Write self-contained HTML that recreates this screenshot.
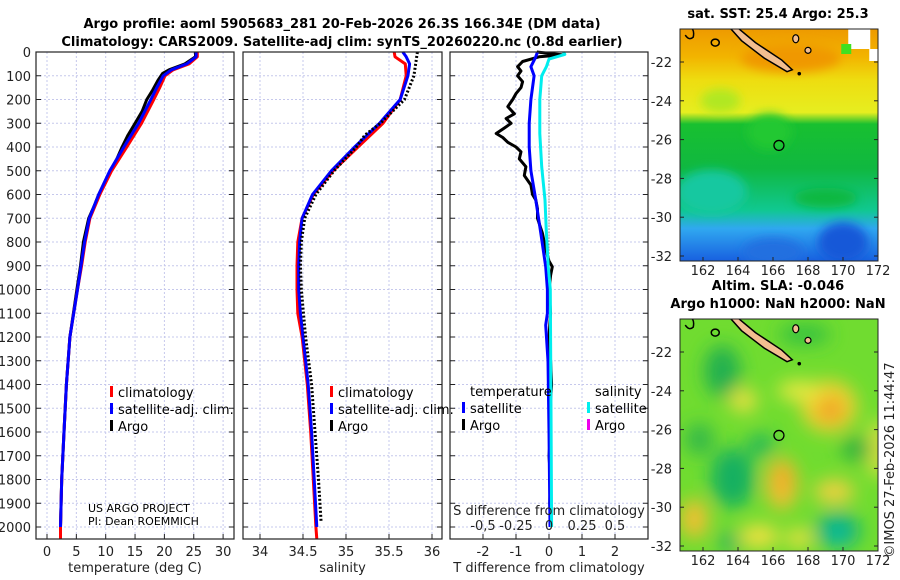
<!DOCTYPE html>
<html><head><meta charset="utf-8"><style>
html,body{margin:0;padding:0;background:#fff;}
svg{display:block;font-family:"DejaVu Sans","Liberation Sans",sans-serif;}
.tk{font-size:13px;fill:#222;}
.ttl{font-size:13px;font-weight:bold;fill:#000;}
.lg{font-size:13px;fill:#000;}
</style></head><body>
<svg id="fig" width="900" height="580" viewBox="0 0 900 580" xmlns="http://www.w3.org/2000/svg">
<defs>
<filter id="blur8" x="-50%" y="-50%" width="200%" height="200%"><feGaussianBlur stdDeviation="9"/></filter>
<filter id="blur5" x="-50%" y="-50%" width="200%" height="200%"><feGaussianBlur stdDeviation="5"/></filter>
<clipPath id="clipTop"><rect x="680" y="29" width="198" height="232"/></clipPath>
<clipPath id="clipBot"><rect x="680" y="319" width="198" height="232"/></clipPath>
<linearGradient id="sstGrad" x1="0" y1="0" x2="0" y2="1">
<stop offset="0" stop-color="#ee9a00"/><stop offset="0.12" stop-color="#f2b400"/>
<stop offset="0.22" stop-color="#eedd10"/><stop offset="0.36" stop-color="#e6ee20"/>
<stop offset="0.41" stop-color="#18c030"/><stop offset="0.6" stop-color="#10b840"/>
<stop offset="0.78" stop-color="#10c890"/><stop offset="0.86" stop-color="#30a8f0"/>
<stop offset="1" stop-color="#1860e0"/></linearGradient>
</defs>
<g>
<text class="ttl" x="342" y="28" text-anchor="middle">Argo profile: aoml 5905683_281 20-Feb-2026 26.3S 166.34E (DM data)</text>
<text class="ttl" x="342" y="46" text-anchor="middle">Climatology: CARS2009. Satellite-adj clim: synTS_20260220.nc (0.8d earlier)</text>
</g>
<g id="panels"></g>
<g id="maps"></g>
<text class="tk" transform="translate(894,460) rotate(-90)" text-anchor="middle" style="font-size:13px">©IMOS 27-Feb-2026 11:44:47</text>
</svg>
<script>
// ---- data ----
const tDepth = [0,20,50,75,100,150,200,300,400,500,600,700,800,900,1000,1200,1400,1600,1800,2000,2100];
const tClim  = [25.6,25.6,24.2,21.5,20.1,19.2,18.2,16.1,13.6,11.0,9.0,7.3,6.5,5.9,5.2,3.9,3.3,2.9,2.5,2.3,2.3];
const tSat   = [25.4,25.4,23.8,21.2,19.8,18.7,17.7,15.6,13.1,10.7,8.8,7.2,6.4,5.8,5.2,3.9,3.3,2.9,2.5,2.3];
const tArgoDepth = [0,20,50,75,90,120,160,200,250,300,350,400,450,500,550,600,650,700,800,900,1000,1200,1400,1600,1800,2000];
const tArgo  = [25.3,25.3,23.5,20.8,19.7,18.9,18.0,17.0,16.2,15.0,13.8,12.8,11.9,10.8,9.8,8.8,8.0,7.1,6.2,5.7,5.1,3.9,3.3,2.9,2.5,2.3];
const sDepth = [0,20,50,100,200,300,400,500,600,700,800,900,1000,1100,1200,1400,1600,1800,2000,2100];
const sClim  = [35.56,35.57,35.69,35.70,35.63,35.43,35.14,34.85,34.62,34.49,34.44,34.43,34.43,34.44,34.49,34.55,34.59,34.62,34.65,34.66];
const sSat   = [35.66,35.70,35.74,35.72,35.63,35.39,35.10,34.83,34.61,34.49,34.46,34.45,34.45,34.47,34.50,34.56,34.60,34.63,34.66];
const sArgoDepth = [0,100,200,300,350,400,500,600,700,800,900,1000,1200,1400,1600,1800,1980];
const sArgo  = [35.83,35.79,35.68,35.40,35.22,35.12,34.86,34.65,34.52,34.48,34.47,34.48,34.53,34.60,34.64,34.68,34.71];
const dDepth = [0,12,20,40,62,80,100,125,150,175,200,230,260,280,300,320,343,360,380,400,420,450,483,520,560,600,623,660,700,763,830,880,904,940,1000,1100,1200,1300,1400,1500,1600,1700,1800,1900,2000];
const dTArgo = [-0.37,0.4,-0.3,-0.8,-0.95,-0.85,-0.95,-0.8,-0.85,-1.0,-1.1,-1.25,-1.05,-1.3,-1.15,-1.35,-1.6,-1.4,-1.25,-1.0,-0.85,-0.9,-0.7,-0.75,-0.55,-0.5,-0.4,-0.35,-0.35,-0.2,-0.1,0.0,0.1,0.05,0.0,0.05,0.0,0.05,0.08,0.03,0.05,0.0,0.05,0.02,0.05];
const dTSatDepth = [0,20,62,100,200,300,400,500,623,763,904,1000,1100,1150,1300,1600,2000];
const dTSat  = [-0.35,-0.4,-0.55,-0.45,-0.55,-0.6,-0.6,-0.55,-0.4,-0.25,-0.1,-0.05,-0.05,-0.1,-0.03,0.0,0.03];
const dSSatDepth = [0,10,30,62,100,200,343,483,623,763,904,1000,1500,2000];
const dSSat  = [0.11,0.12,0.0,-0.02,-0.055,-0.07,-0.07,-0.055,-0.03,-0.02,-0.005,0.01,0.015,0.02];
const depthTicks = [0,100,200,300,400,500,600,700,800,900,1000,1100,1200,1300,1400,1500,1600,1700,1800,1900,2000];
const tTicks = [0,5,10,15,20,25,30];
const sTicks = [34,34.5,35,35.5,36];
const sTickLabels = ["34","34.5","35","35.5","36"];
const dTTicks = [-2,-1,0,1,2];
const dSTicks = [-0.5,-0.25,0,0.25,0.5];
const dSTickLabels = ["-0,5","-0.25","0","0.25","0.5"];
const lonTicks = [162,164,166,168,170,172];
const latTicks = [-22,-24,-26,-28,-30,-32];
const floatLon = 166.34, floatLat = -26.3;

// ---- helpers ----
const NS="http://www.w3.org/2000/svg";
function mk(tag, attrs, parent){const e=document.createElementNS(NS,tag);for(const k in attrs)e.setAttribute(k,attrs[k]);parent.appendChild(e);return e;}
const yDepth = d => 52 + d*0.2375;
const PY0=52, PY1=539;
const panelsG=document.getElementById('panels');

function panel(name,x0,x1,xs,xt,xtl,xlabel,showDepth){
  const g=mk('g',{},panelsG);
  
  
  xt.forEach(v=>mk('line',{x1:xs(v),x2:xs(v),y1:PY0,y2:PY1,stroke:'#c6c8ec','stroke-dasharray':'2,2','stroke-width':1},g));
  depthTicks.forEach(d=>{mk('line',{x1:x0,x2:x1,y1:yDepth(d),y2:yDepth(d),stroke:'#c6c8ec','stroke-dasharray':'2,2','stroke-width':1},g);
    mk('line',{x1:x0,x2:x0+5,y1:yDepth(d),y2:yDepth(d),stroke:'#222'},g);
    mk('line',{x1:x1-5,x2:x1,y1:yDepth(d),y2:yDepth(d),stroke:'#222'},g);
    if(showDepth){const t=mk('text',{x:31,y:yDepth(d)+5,'text-anchor':'end',class:'tk'},g);t.textContent=d;}});
  xt.forEach((v,i)=>{mk('line',{x1:xs(v),x2:xs(v),y1:PY1,y2:PY1-5,stroke:'#222'},g);
    if(xtl){const t=mk('text',{x:xs(v),y:556,'text-anchor':'middle',class:'tk'},g);t.textContent=xtl[i];}});
  const t=mk('text',{x:(x0+x1)/2,y:572,'text-anchor':'middle',class:'tk'},g);t.textContent=xlabel;
  return g;
}
function frame(g,x0,x1){mk('rect',{x:x0,y:PY0,width:x1-x0,height:PY1-PY0,fill:'none',stroke:'#222','stroke-width':1.2},g);}
function line(g,xs,vals,deps,color,w,dash,name){
  const pts=vals.map((v,i)=>xs(v).toFixed(1)+','+Math.min(PY1,yDepth(deps[i])).toFixed(1)).join(' ');
  const p=mk('polyline',{points:pts,fill:'none',stroke:color,'stroke-width':w,'stroke-linejoin':'round'},g);
  if(dash)p.setAttribute('stroke-dasharray',dash);
  
  
}
function legendItems(g,x,y,items){
  items.forEach((it,i)=>{const yy=y+i*17;
    mk('rect',{x:x,y:yy-11,width:3,height:11,fill:it[1]},g);
    const t=mk('text',{x:x+8,y:yy,class:'lg'},g);t.textContent=it[0];});
}

// Panel 1 temperature
const xT=v=>47+v*5.87;
const g1=panel('temperature-panel',36,234,xT,tTicks,tTicks,'temperature (deg C)',true);
line(g1,xT,tArgo,tArgoDepth,'#000',3,null,'temperature-argo-line');
line(g1,xT,tClim,tDepth,'#ff0000',3,null,'temperature-climatology-line');
line(g1,xT,tSat,tDepth.slice(0,tSat.length),'#0000ff',3,null,'temperature-satellite-line');
frame(g1,36,234);
const lg1=mk('g',{},g1);
legendItems(lg1,110,397,[['climatology','#ff0000'],['satellite-adj. clim.','#0000ff'],['Argo','#000']]);
const pj=mk('text',{x:88,y:512,class:'lg',style:'font-size:11px'},g1);pj.textContent='US ARGO PROJECT';
const pi=mk('text',{x:88,y:525,class:'lg',style:'font-size:11px'},g1);pi.textContent='PI: Dean ROEMMICH';

// Panel 2 salinity
const xS=v=>260+(v-34)*86;
const g2=panel('salinity-panel',243,442,xS,sTicks,sTickLabels,'salinity',false);
line(g2,xS,sClim,sDepth,'#ff0000',3,null,'salinity-climatology-line');
line(g2,xS,sSat,sDepth.slice(0,sSat.length),'#0000ff',3,null,'salinity-satellite-line');
line(g2,xS,sArgo,sArgoDepth,'#000',3,'2,2','salinity-argo-line');
frame(g2,243,442);
const lg2=mk('g',{},g2);
legendItems(lg2,330,397,[['climatology','#ff0000'],['satellite-adj. clim.','#0000ff'],['Argo','#000']]);

// Panel 3 differences
const xD=v=>549+v*33;
const xDS=v=>549+v*132;
const g3=panel('difference-panel',450,648,xD,dTTicks,dTTicks,'T difference from climatology',false);
mk('line',{x1:549,x2:549,y1:yDepth(150),y2:yDepth(900),stroke:'#555','stroke-dasharray':'1,2'},g3);
line(g3,xD,dTArgo,dDepth,'#000',3,null,'t-diff-argo-line');
line(g3,xD,dTSat,dTSatDepth,'#0000ff',3,null,'t-diff-satellite-line');
line(g3,xDS,dSSat,dSSatDepth,'#00eeee',3,null,'s-diff-satellite-line');
frame(g3,450,648);
dSTicks.forEach((v,i)=>{const t=mk('text',{x:xDS(v),y:530,'text-anchor':'middle',class:'tk'},g3);t.textContent=dSTickLabels[i];});
const sdl=mk('text',{x:549,y:515,'text-anchor':'middle',class:'tk'},g3);sdl.textContent='S difference from climatology';
const lg3=mk('g',{},g3);
const tl=mk('text',{x:470,y:396,class:'lg'},lg3);tl.textContent='temperature';
const sl=mk('text',{x:595,y:396,class:'lg'},lg3);sl.textContent='salinity';
legendItems(lg3,462,413,[['satellite','#0000ff'],['Argo','#000']]);
legendItems(lg3,587,413,[['satellite','#00eeee'],['Argo','#ee00ee']]);

// Maps
const mapsG=document.getElementById('maps');
const xLon=l=>703+(l-162)*17.5;
function mapPanel(name,top,y22,clip,title,fillFn){
  const yLat=l=>y22+(-22-l)*19.4;
  const g=mk('g',{},mapsG);
  
  
  const c=mk('g',{'clip-path':'url(#'+clip+')'},g);
  fillFn(c,yLat);
  mk('path',{d:`M${xLon(163.8)},${yLat(-20.1)} L${xLon(165)},${yLat(-21)} L${xLon(166.5)},${yLat(-21.9)} L${xLon(167.1)},${yLat(-22.4)} L${xLon(166.8)},${yLat(-22.5)} L${xLon(165.5)},${yLat(-21.8)} L${xLon(164.2)},${yLat(-20.9)} L${xLon(163.5)},${yLat(-20.2)} Z`,fill:'#f2be90',stroke:'#000','stroke-width':1.5},c);
  mk('path',{d:`M${xLon(161.1)},${yLat(-20.2)} q8,0 6,10 q-4,4 -8,-2`,fill:'none',stroke:'#000','stroke-width':1.5},c);
  mk('ellipse',{cx:xLon(162.7),cy:yLat(-21),rx:4,ry:3.5,fill:'none',stroke:'#000','stroke-width':1.5},c);
  mk('ellipse',{cx:xLon(167.3),cy:yLat(-20.8),rx:3,ry:4,fill:'#f2be90',stroke:'#000','stroke-width':1.2},c);
  mk('ellipse',{cx:xLon(168),cy:yLat(-21.4),rx:3,ry:3,fill:'#f2be90',stroke:'#000','stroke-width':1.2},c);
  mk('circle',{cx:xLon(167.5),cy:yLat(-22.6),r:1.8,fill:'#000'},c);
  mk('rect',{x:680,y:top,width:198,height:232,fill:'none',stroke:'#222'},g);
  latTicks.forEach(l=>{mk('line',{x1:680,x2:684,y1:yLat(l),y2:yLat(l),stroke:'#222'},g);mk('line',{x1:874,x2:878,y1:yLat(l),y2:yLat(l),stroke:'#222'},g);
    const t=mk('text',{x:672,y:yLat(l)+5,'text-anchor':'end',class:'tk'},g);t.textContent=l;});
  lonTicks.forEach(l=>{mk('line',{x1:xLon(l),x2:xLon(l),y1:top+232,y2:top+228,stroke:'#222'},g);
    const t=mk('text',{x:xLon(l),y:top+246,'text-anchor':'middle',class:'tk'},g);t.textContent=l;});
  const fc=mk('circle',{cx:xLon(floatLon),cy:yLat(floatLat),r:5,fill:'none',stroke:'#000','stroke-width':1.3},g);
  
  
  title.forEach((s,i)=>{const t=mk('text',{x:778,y:top-11-(title.length-1-i)*18,'text-anchor':'middle',class:'ttl'},g);t.textContent=s;});
}
mapPanel('sst-map',29,62,'clipTop',['sat. SST: 25.4 Argo: 25.3'],(c,yLat)=>{
  mk('rect',{x:680,y:29,width:198,height:232,fill:'url(#sstGrad)'},c);
  const b=mk('g',{filter:'url(#blur5)'},c);
  mk('ellipse',{cx:xLon(165.8),cy:yLat(-25.6),rx:22,ry:18,fill:'#20c830'},b);
  mk('ellipse',{cx:xLon(163),cy:yLat(-24),rx:20,ry:12,fill:'#b0e820'},b);
  mk('ellipse',{cx:xLon(162.5),cy:yLat(-28.7),rx:35,ry:22,fill:'#18c8a0'},b);
  mk('ellipse',{cx:xLon(166),cy:yLat(-31.8),rx:30,ry:14,fill:'#2070e0'},b);
  mk('ellipse',{cx:xLon(170),cy:yLat(-31.3),rx:25,ry:20,fill:'#1858d8'},b);
  mk('ellipse',{cx:xLon(169),cy:yLat(-29),rx:32,ry:10,fill:'#10b840'},b);
  mk('ellipse',{cx:xLon(167),cy:yLat(-21.8),rx:50,ry:14,fill:'#f09800'},b);
  mk('rect',{x:xLon(170.3),y:29,width:22,height:20,fill:'#fff'},c);
  mk('rect',{x:xLon(171.5),y:49,width:10,height:12,fill:'#fff'},c);
  mk('rect',{x:xLon(169.9),y:44,width:10,height:10,fill:'#40e020'},c);
});
mapPanel('sla-map',319,352,'clipBot',['Altim. SLA: -0.046','Argo h1000: NaN h2000: NaN'],(c,yLat)=>{
  mk('rect',{x:680,y:319,width:198,height:232,fill:'#70dc30'},c);
  const b=mk('g',{filter:'url(#blur8)'},c);
  [[169.2,-24.8,28,26,'#f0d030'],[169.3,-25,13,12,'#f0a020'],[166.5,-28.8,16,26,'#f0c030'],[166.6,-28.5,8,14,'#f0a828'],
   [169.5,-29.2,20,12,'#f0d040'],[161.5,-30.6,14,20,'#f0c030'],[164.3,-24.5,14,12,'#e8e040'],[167.5,-24,22,10,'#e8e840'],
   [165.2,-31.5,20,12,'#f0e040'],[167.5,-31.6,14,10,'#e8e040'],[172,-27,10,30,'#e0e040']].forEach(e=>mk('ellipse',{cx:xLon(e[0]),cy:yLat(e[1]),rx:e[2],ry:e[3],fill:e[4]},b));
  [[163.1,-23,18,26,'#20b050'],[163.7,-28.5,22,30,'#18b060'],[161.8,-26.5,14,16,'#30b848'],[165.3,-26.8,14,12,'#28b858'],
   [169.7,-31.2,22,18,'#10b080'],[169.7,-31.4,10,9,'#10c0a0'],[170.8,-27,16,12,'#30b040'],[167.8,-21.1,26,10,'#30c040'],[163.5,-31.8,10,10,'#20b060']].forEach(e=>mk('ellipse',{cx:xLon(e[0]),cy:yLat(e[1]),rx:e[2],ry:e[3],fill:e[4]},b));
});
</script>
</body></html>
